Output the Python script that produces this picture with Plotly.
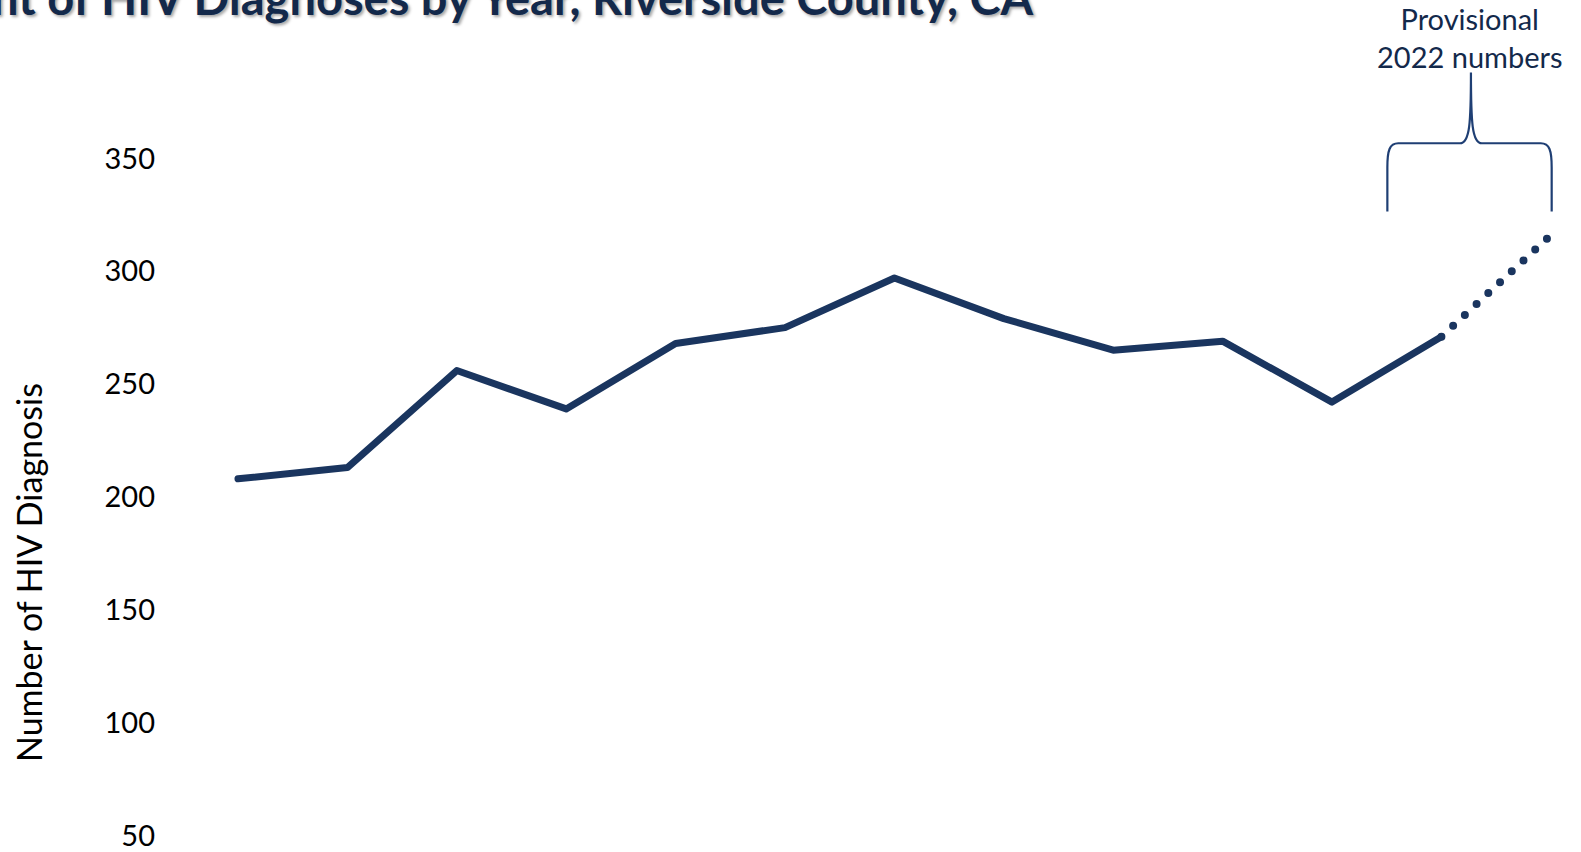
import plotly.graph_objects as go

# ---- data ----
years = [2010, 2011, 2012, 2013, 2014, 2015, 2016, 2017, 2018, 2019, 2020, 2021, 2022]
diagnoses = [208, 213, 256, 239, 268, 275, 297, 279, 265, 269, 242, 271, 316]
y_ticks = [50, 100, 150, 200, 250, 300, 350]

title_text = "Count of HIV Diagnoses by Year, Riverside County, CA"
y_title = "Number of HIV Diagnosis"
note_text = "Provisional<br>2022 numbers"

LINE = "#1a355f"
NAVY = "#13294b"
BRACE = "#1f3f74"
FONT = "Lato, Calibri, Carlito, sans-serif"

W, H = 1581, 852
L = 160

fig = go.Figure()
# final (confirmed) years: solid
fig.add_trace(go.Scatter(
    x=years[:-1], y=diagnoses[:-1], mode="lines",
    line=dict(color=LINE, width=7), hoverinfo="x+y", showlegend=False))
# provisional year: dotted
fig.add_trace(go.Scatter(
    x=years[-2:], y=diagnoses[-2:], mode="lines",
    line=dict(color=LINE, width=8, dash="0px,16px"), hoverinfo="x+y", showlegend=False))

# curly brace over the provisional segment (data coords)
xl, xt, xr = 2020.506, 2021.27, 2022.008
yb, yh, ytop = 326.4, 356.7, 388.0
path = (
    f"M {xl},{yb} L {xl},{346.0} "
    f"C {xl},{353.5} {xl+0.02},{yh} {xl+0.10},{yh} "
    f"L {xt-0.10},{yh} "
    f"C {xt-0.01},{yh} {xt},{366} {xt},{ytop} "
    f"C {xt},{366} {xt+0.01},{yh} {xt+0.10},{yh} "
    f"L {xr-0.10},{yh} "
    f"C {xr-0.02},{yh} {xr},{353.5} {xr},{346.0} "
    f"L {xr},{yb}"
)
fig.add_shape(type="path", path=path, xref="x", yref="y",
              line=dict(color=BRACE, width=2.2), layer="above")

fig.add_annotation(text=note_text, xref="paper", yref="paper",
                   x=(1469 - L) / (W - L), y=1 - 37 / H, xanchor="center", yanchor="middle",
                   showarrow=False, font=dict(family=FONT, size=29, color=NAVY))

fig.add_annotation(text=f"<b>{title_text}</b>", xref="paper", yref="paper",
                   x=(1036 - L) / (W - L), y=1 - 27 / H, xanchor="right", yanchor="bottom",
                   showarrow=False,
                   font=dict(family="Lato, Calibri, sans-serif", size=47, color=NAVY,
                             shadow="2px 2px 3px rgba(0,0,0,0.35)"))

fig.add_annotation(text=y_title, xref="paper", yref="paper",
                   x=(28 - L) / (W - L), y=1 - 573 / H, xanchor="center", yanchor="middle",
                   textangle=-90, showarrow=False,
                   font=dict(family=FONT, size=34, color="#000000"))

x0 = 2010 - (238 - L) / 109.4
x1 = 2010 + (W - 238) / 109.4
px_per = 2.257
zero_px = 948.3
fig.update_layout(
    width=W, height=H,
    margin=dict(l=L, r=0, t=0, b=0),
    paper_bgcolor="white", plot_bgcolor="white",
    xaxis=dict(range=[x0, x1], visible=False, showgrid=False, zeroline=False),
    yaxis=dict(range=[(zero_px - H) / px_per, zero_px / px_per],
               tickvals=y_ticks, showgrid=False, zeroline=False, showline=False,
               ticks="", ticklabelstandoff=4,
               tickfont=dict(family=FONT, size=29, color="#000000")),
    font=dict(family=FONT),
)

post = """
document.body.style.margin='0';
document.body.style.overflow='hidden';
document.querySelectorAll('.scatterlayer path.js-line').forEach(function(p){
  p.style.strokeLinecap='round'; p.style.strokeLinejoin='round';
});
"""
fig.write_html("out.html", post_script=post, config={"displayModeBar": False})
